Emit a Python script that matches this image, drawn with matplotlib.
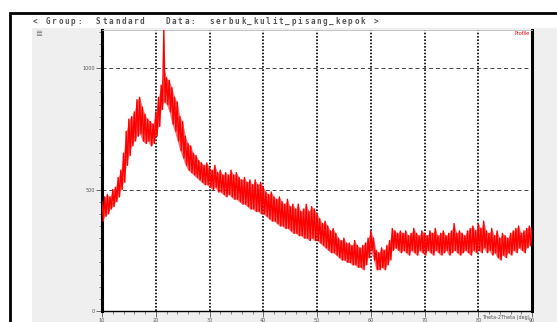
import numpy as np
import matplotlib
matplotlib.use("Agg")
import matplotlib.pyplot as plt
from matplotlib.patches import Rectangle

# XRD profile: upper / lower edge of the noisy trace every 0.5 deg
angle_start, angle_step = 10.0, 0.5
upper = [450, 470, 480, 470, 500, 510, 550, 580, 650, 740,
         790, 800, 820, 870, 880, 840, 810, 790, 780, 770,
         820, 880, 930, 1160, 960, 950, 920, 880, 860, 800,
         780, 720, 690, 680, 650, 640, 620, 610, 600, 610,
         590, 580, 600, 570, 580, 560, 570, 560, 580, 560,
         570, 550, 540, 550, 530, 540, 520, 540, 520, 530,
         510, 490, 480, 490, 470, 460, 470, 450, 440, 460,
         430, 440, 420, 440, 410, 420, 440, 410, 430, 420,
         400, 380, 360, 370, 350, 330, 340, 320, 300, 290,
         300, 280, 280, 270, 290, 270, 260, 270, 280, 300,
         330, 300, 250, 240, 260, 250, 270, 290, 340, 330,
         320, 330, 320, 330, 310, 320, 340, 320, 310, 330,
         320, 310, 330, 320, 340, 310, 320, 330, 310, 320,
         330, 360, 320, 330, 320, 310, 330, 340, 350, 330,
         360, 340, 370, 330, 320, 340, 310, 330, 300, 320,
         310, 300, 320, 330, 340, 350, 320, 330, 340, 350,
         340]
lower = [370, 390, 400, 420, 430, 450, 470, 500, 530, 600,
         640, 680, 700, 720, 730, 700, 690, 700, 680, 690,
         720, 760, 830, 860, 850, 820, 770, 740, 700, 660,
         630, 600, 580, 570, 560, 550, 540, 530, 520, 520,
         510, 500, 510, 490, 490, 480, 470, 480, 470, 460,
         460, 450, 440, 440, 430, 420, 420, 410, 410, 400,
         400, 390, 380, 370, 370, 360, 350, 350, 340, 340,
         330, 320, 320, 310, 310, 300, 300, 290, 300, 290,
         290, 280, 270, 260, 250, 240, 240, 230, 220, 210,
         210, 200, 200, 190, 190, 180, 180, 170, 190, 220,
         250, 210, 170, 170, 180, 170, 190, 210, 250, 260,
         250, 240, 250, 240, 230, 250, 240, 230, 250, 240,
         230, 250, 240, 230, 250, 240, 230, 240, 250, 230,
         240, 250, 240, 230, 240, 250, 240, 230, 250, 240,
         250, 240, 260, 240, 250, 230, 240, 220, 210, 230,
         220, 240, 230, 250, 240, 260, 250, 240, 260, 270,
         260]

x_major = [10, 20, 30, 40, 50, 60, 70, 80, 90]
y_major = [0, 500, 1000]
header = "< Group:  Standard   Data:  serbuk_kulit_pisang_kepok >"

angles = angle_start + angle_step * np.arange(len(upper))
# zig-zag between upper and lower edge to mimic the noisy trace
xs = np.column_stack([angles, angles + angle_step / 2]).ravel()[:-1]
ys = np.column_stack([upper, lower]).ravel()[:-1]

W, H = 557, 322
fig = plt.figure(figsize=(W / 100, H / 100), dpi=100)
fig.patch.set_facecolor("white")

# outer window frame and grey panel
fig.patches.append(Rectangle((10 / W, -0.05), 1.1, (H - 13) / H + 0.05,
                             transform=fig.transFigure, facecolor="white",
                             edgecolor="black", linewidth=2, zorder=0))
fig.patches.append(Rectangle((32 / W, 0), (W - 32) / W, (H - 28) / H,
                             transform=fig.transFigure, facecolor="#efefef",
                             edgecolor="none", zorder=0.5))

# widely spaced header text, one character at a time
pitch = 6.3
for i, ch in enumerate(header):
    if ch != " ":
        fig.text((33 + i * pitch) / W, 1 - 21 / H, ch, fontsize=5.5,
                 family="DejaVu Sans Mono", fontweight="bold", color="#555555",
                 va="center", ha="left")
fig.text(35 / W, 1 - 33 / H, "\u2263", fontsize=6, color="#777777",
         va="center", ha="left")

ax = fig.add_axes([102 / W, (H - 311) / H, (532 - 102) / W, (311 - 30) / H])
ax.set_zorder(2)
ax.set_facecolor("white")
ax.fill_between(angles, lower, np.minimum(upper, 1000), color="red",
                alpha=0.55, linewidth=0, zorder=2)
ax.plot(xs, ys, color="red", linewidth=1.0, zorder=3)

ax.set_xlim(10, 90)
ax.set_ylim(0, 1157)

# grid: dotted verticals, dashed horizontals
for xv in x_major[1:-1]:
    ax.axvline(xv, color="black", linestyle=(0, (1, 1)), linewidth=1.2, zorder=1)
for yv in y_major[1:]:
    ax.axhline(yv, color="#444444", linestyle=(0, (4, 3)), linewidth=0.7, zorder=1)

ax.set_xticks(x_major)
ax.set_xticks(np.arange(10, 91, 2), minor=True)
ax.set_yticks(y_major)
ax.set_yticks(np.arange(0, 1151, 50), minor=True)
ax.tick_params(axis="both", which="major", labelsize=3.5, labelcolor="#555555",
               length=4, width=0.6, color="#555555", pad=1)
ax.tick_params(axis="both", which="minor", length=2, width=0.5, color="#555555")

for side in ["left", "right"]:
    ax.spines[side].set_linewidth(2.2)
    ax.spines[side].set_color("black")
ax.spines["top"].set_linewidth(0.6)
ax.spines["top"].set_color("#bbbbbb")
ax.spines["bottom"].set_linestyle((0, (1, 1)))
ax.spines["bottom"].set_linewidth(1)

ax.text(0.995, 0.995, "Profile", transform=ax.transAxes, color="red",
        fontsize=3.5, ha="right", va="top")
fig.text(530 / W, 1 - 318 / H, "Theta-2Theta (deg)", fontsize=3.5,
         color="#555555", ha="right", va="center")

fig.savefig("out.png", dpi=100)
